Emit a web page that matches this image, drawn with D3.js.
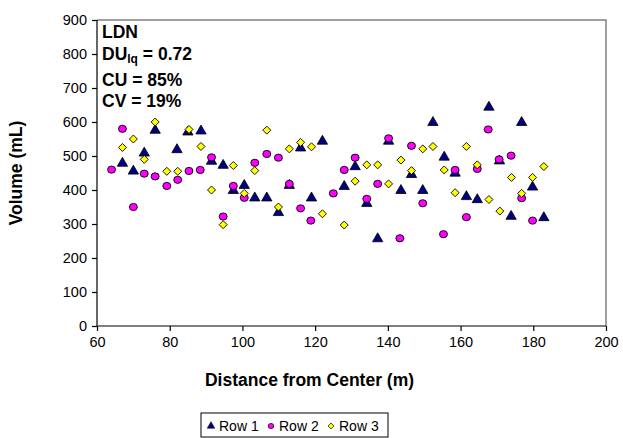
<!DOCTYPE html>
<html><head><meta charset="utf-8">
<script src="https://cdn.jsdelivr.net/npm/d3@7"></script>
<style>body{margin:0;background:#fff}svg{display:block;font-family:"Liberation Sans",Arial,sans-serif}</style>
</head><body><svg id="c" width="623" height="438"></svg>
<script>
const row1X = [67,70,73,76,82,85,88.6,91.5,94.7,97.5,100.5,103.4,106.7,109.9,112.9,116,119,122,128,131,134.2,137.2,140.2,143.6,146.5,149.6,152.4,155.5,158.5,161.6,164.6,167.8,170.7,173.9,176.8,179.8,182.9];
const row1Y = [480,457,510,577,520,572,575,486,474,400,415,378,378,335,415,525,378,545,412,470,362,258,545,400,447,400,600,498,451,382,373,645,487,324,600,410,320];
const row2X = [64,67,70,73,76,79.2,82.2,85.3,88.4,91.5,94.7,97.5,100.5,103.4,106.7,109.9,112.9,116,118.8,125,128,131,134.2,137.2,140.2,143.3,146.5,149.6,155.3,158.5,161.6,164.6,167.6,170.6,173.9,176.8,179.8];
const row2Y = [460,580,350,448,440,412,430,456,459,496,322,412,377,480,506,495,418,346,310,390,459,495,374,418,552,258,530,361,270,459,320,462,578,490,501,376,310];
const row3X = [67,70,73,76,79.2,82.2,85.3,88.6,91.5,94.7,97.5,100.5,103.4,106.7,109.9,112.9,116,119,122,128,131,134.2,137.2,140.2,143.6,146.5,149.6,152.4,155.5,158.5,161.6,164.6,167.8,170.8,174,176.8,179.8,182.9];
const row3Y = [525,550,490,600,455,455,578,528,400,298,472,390,457,576,350,521,540,527,330,297,426,474,474,418,488,457,521,528,459,392,528,474,372,338,437,390,437,469];
const xTicks = [60,80,100,120,140,160,180,200];
const yTicks = [0,100,200,300,400,500,600,700,800,900];
const seriesNames = ["Row 1","Row 2","Row 3"];
const statLines = ["LDN","DU","CU = 85%","CV = 19%"];

const svg = d3.select("#c");
const L=97, R=606, T=20, B=326;
const x = d3.scaleLinear().domain([60,200]).range([L,R]);
const y = d3.scaleLinear().domain([0,900]).range([B,T]);

svg.append("path").attr("d",`M${L},${T}H${R}V${B}`).attr("fill","none").attr("stroke","#808080").attr("stroke-width",1.5);

const xa = svg.append("g").attr("transform",`translate(0,${B})`)
  .call(d3.axisBottom(x).tickValues(xTicks).tickSize(5).tickPadding(6).tickFormat(d3.format("d")));
const ya = svg.append("g").attr("transform",`translate(${L},0)`)
  .call(d3.axisLeft(y).tickValues(yTicks).tickSize(5).tickPadding(5).tickFormat(d3.format("d")));
[xa,ya].forEach(a=>{
  a.selectAll("path,line").attr("stroke","#000").attr("stroke-width",1.2);
  a.selectAll("text").attr("font-size",14.5).attr("fill","#000").attr("font-family","Liberation Sans, Arial, sans-serif");
});
xa.select(".domain").attr("d",`M${L},0H${R}`);
ya.select(".domain").attr("d",`M0,${B}V${T}`);

const tri = d3.symbol().type(d3.symbolTriangle).size(46);
const diaPath = s => `M0,${-s}L${s},0L0,${s}L${-s},0Z`;

const g = svg.append("g");
g.selectAll(".r1").data(row1X.map((v,i)=>[v,row1Y[i]])).join("path")
  .attr("d",tri).attr("transform",d=>`translate(${x(d[0])},${y(d[1])+0.5})`)
  .attr("fill","#000080").attr("stroke","#000").attr("stroke-width",0.8);
g.selectAll(".r2").data(row2X.map((v,i)=>[v,row2Y[i]])).join("ellipse")
  .attr("cx",d=>x(d[0])).attr("cy",d=>y(d[1])).attr("rx",4).attr("ry",3.6)
  .attr("fill","#ff00ff").attr("stroke","#000").attr("stroke-width",0.9);
g.selectAll(".r3").data(row3X.map((v,i)=>[v,row3Y[i]])).join("path")
  .attr("d",diaPath(4)).attr("transform",d=>`translate(${x(d[0])},${y(d[1])})`)
  .attr("fill","#ffff00").attr("stroke","#000").attr("stroke-width",0.9);

const st = svg.append("g").attr("font-weight","bold").attr("font-size",17.5).attr("fill","#000");
st.append("text").attr("x",102).attr("y",38).text(statLines[0]);
const du = st.append("text").attr("x",102).attr("y",60);
du.append("tspan").text(statLines[1]);
du.append("tspan").attr("font-size",12).attr("dy",3).text("lq");
du.append("tspan").attr("dy",-3).text(" = 0.72");
st.append("text").attr("x",102).attr("y",86).text(statLines[2]);
st.append("text").attr("x",102).attr("y",107).text(statLines[3]);

svg.append("text").attr("x",(L+R)/2 - 42).attr("y",386).attr("text-anchor","middle")
  .attr("font-weight","bold").attr("font-size",17.5).text("Distance from Center (m)");
svg.append("text").attr("transform",`translate(22,${(T+B)/2}) rotate(-90)`).attr("text-anchor","middle")
  .attr("font-weight","bold").attr("font-size",17.5).text("Volume (mL)");

const lg = svg.append("g");
lg.append("rect").attr("x",201).attr("y",413).attr("width",187).attr("height",24)
  .attr("fill","#fff").attr("stroke","#000").attr("stroke-width",1);
const lx = [211,271,331];
const ly = 426;
lg.append("path").attr("d",d3.symbol().type(d3.symbolTriangle).size(24)).attr("transform",`translate(${lx[0]},${ly})`).attr("fill","#000080").attr("stroke","#000").attr("stroke-width",0.6);
lg.append("ellipse").attr("cx",lx[1]).attr("cy",ly).attr("rx",2.8).attr("ry",2.6).attr("fill","#ff00ff").attr("stroke","#000").attr("stroke-width",0.7);
lg.append("path").attr("d",diaPath(3)).attr("transform",`translate(${lx[2]},${ly})`).attr("fill","#ffff00").attr("stroke","#000").attr("stroke-width",0.7);
seriesNames.forEach((n,i)=>{
  lg.append("text").attr("x",lx[i]+8).attr("y",ly+5).attr("font-size",14).text(n);
});
</script></body></html>
